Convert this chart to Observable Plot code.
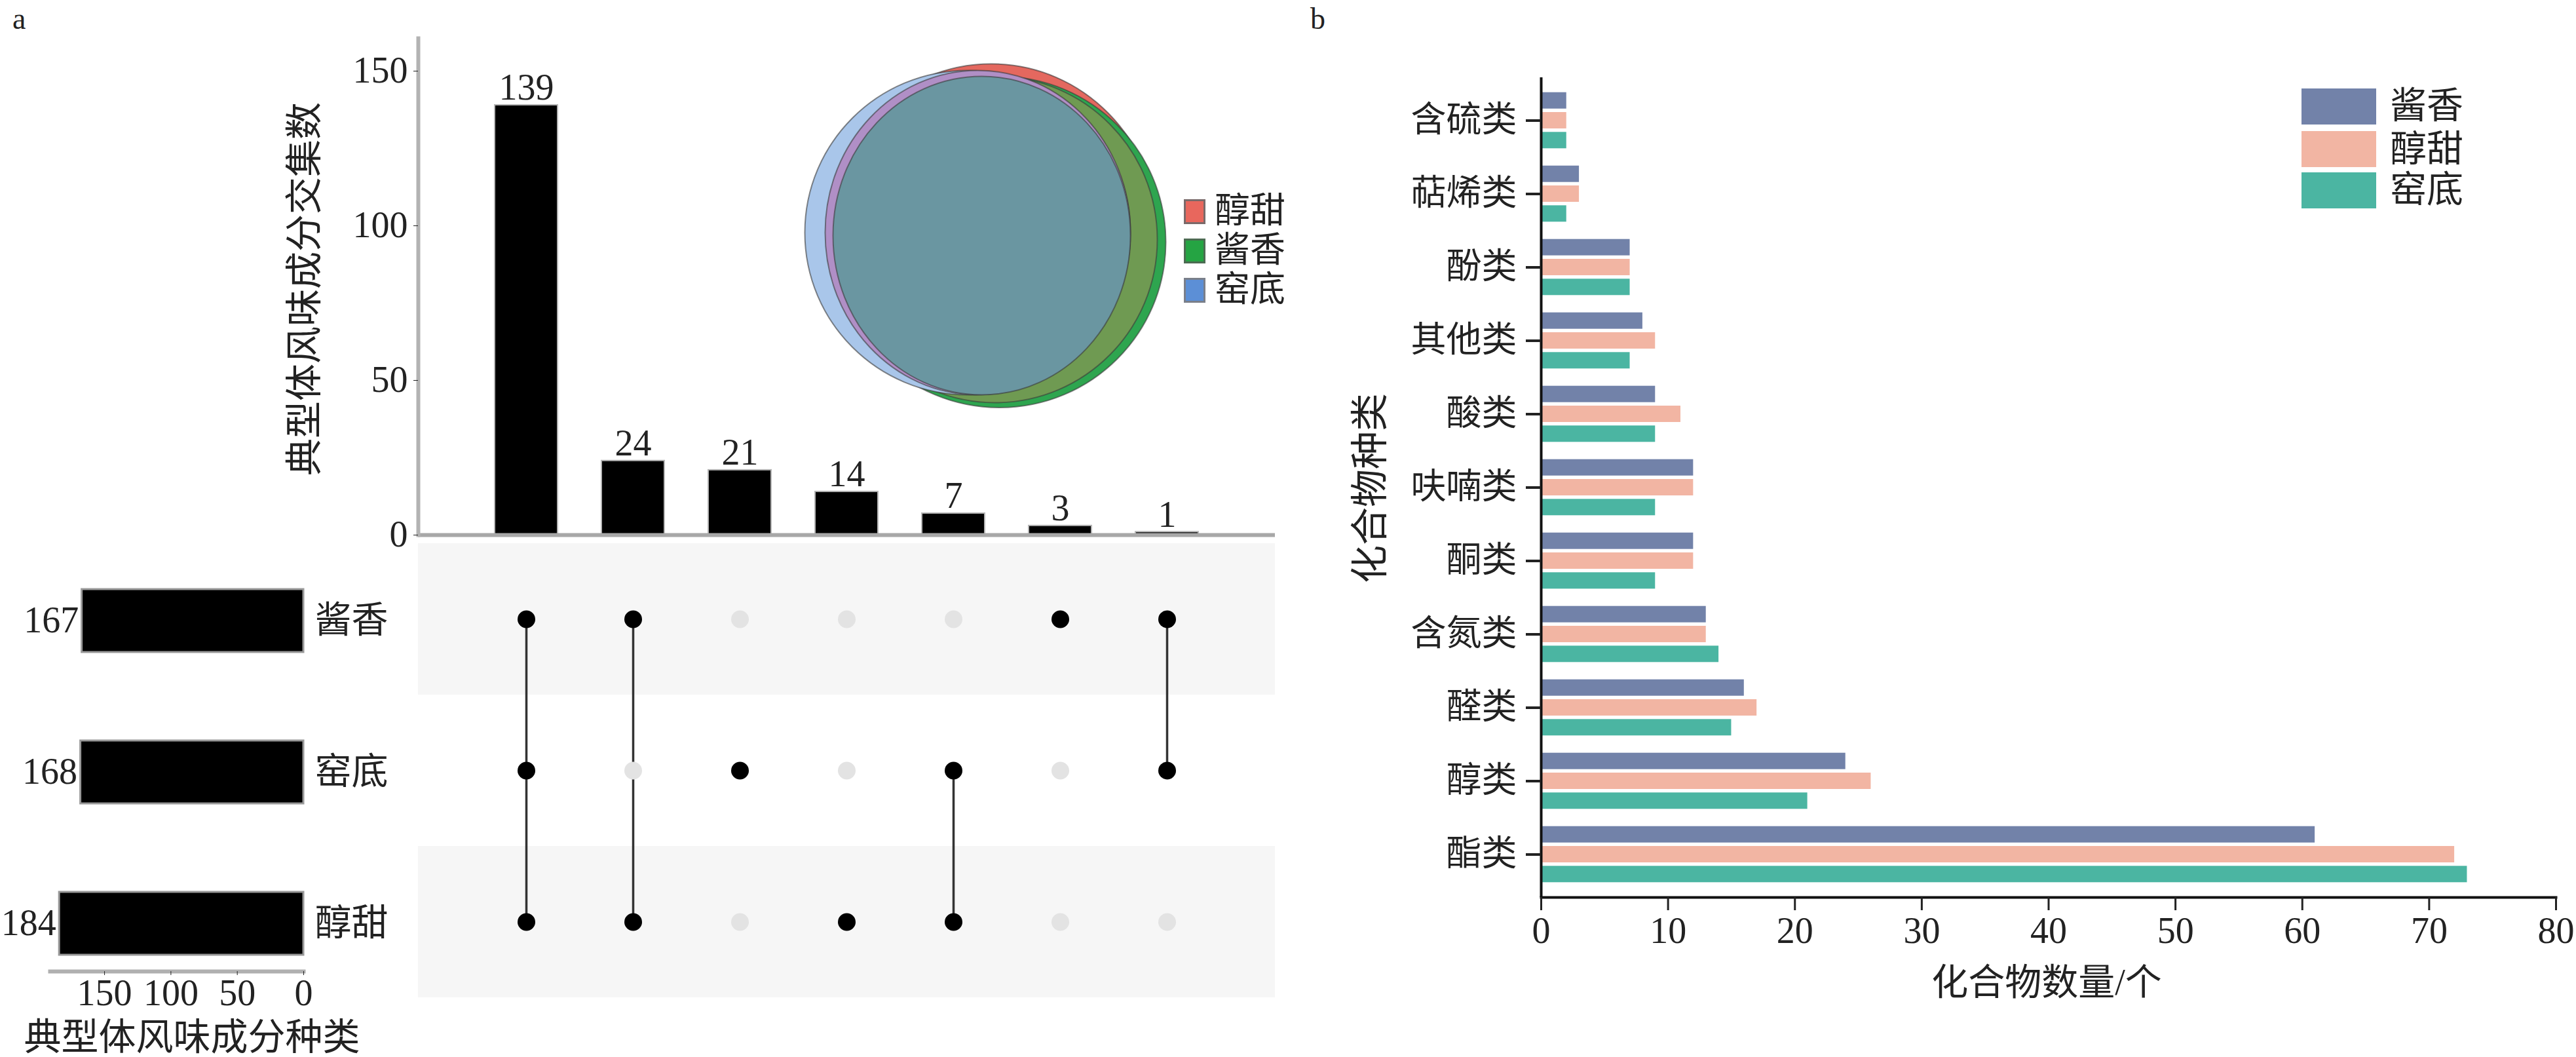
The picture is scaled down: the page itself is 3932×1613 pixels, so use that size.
<!DOCTYPE html>
<html><head><meta charset="utf-8">
<script src="https://cdn.jsdelivr.net/npm/d3@7"></script>
<script src="https://cdn.jsdelivr.net/npm/@observablehq/plot@0.6"></script>
<style>
html,body{margin:0;padding:0;background:#fff;}
#root{position:relative;width:3932px;height:1613px;overflow:hidden;background:#fff;font-family:"Liberation Serif","Noto Sans CJK SC",serif;color:#222;}
.layer{position:absolute;}
.layer svg{display:block;max-width:none;}
.t{position:absolute;white-space:nowrap;line-height:1.1;}
.sw{position:absolute;box-sizing:border-box;}
</style></head><body><div id="root"></div>
<script>
// ---------- data: panel a (UpSet) ----------
const setNames = ["酱香", "窑底", "醇甜"];
const setSizes = [167, 168, 184];
const comboCounts = [139, 24, 21, 14, 7, 3, 1];
const comboMembers = [["酱香","窑底","醇甜"], ["酱香","醇甜"], ["窑底"], ["醇甜"], ["窑底","醇甜"], ["酱香"], ["酱香","窑底"]];
const topTicks = [0, 50, 100, 150];
const setTicks = [150, 100, 50, 0];
const vennNames = ["醇甜", "酱香", "窑底"];

// ---------- data: panel b ----------
const categories = ["含硫类","萜烯类","酚类","其他类","酸类","呋喃类","酮类","含氮类","醛类","醇类","酯类"];
const seriesNames = ["酱香", "醇甜", "窑底"];
const jiangxiang = [2, 3, 7, 8, 9, 12, 12, 13, 16, 24, 61];
const chuntian   = [2, 3, 7, 9, 11, 12, 12, 13, 17, 26, 72];
const jiaodi     = [2, 2, 7, 7, 9, 9, 9, 14, 15, 21, 73];
const bTicks = [0, 10, 20, 30, 40, 50, 60, 70, 80];

// ---------- helpers ----------
const FONT = '"Liberation Serif", "Noto Sans CJK SC", serif';
const root = document.getElementById("root");
function place(node, left, top) {
  const d = document.createElement("div");
  d.className = "layer"; d.style.left = left + "px"; d.style.top = top + "px";
  d.appendChild(node); root.appendChild(d);
}
function label(text, x, y, size, opts = {}) {
  const d = document.createElement("div");
  d.className = "t"; d.textContent = text;
  d.style.fontSize = size + "px";
  d.style.left = x + "px"; d.style.top = y + "px";
  d.style.transform = opts.transform || "translate(-50%,-50%)";
  root.appendChild(d);
}
function swatch(x, y, w, h, fill, border) {
  const d = document.createElement("div");
  d.className = "sw";
  Object.assign(d.style, {left: x + "px", top: y + "px", width: w + "px", height: h + "px", background: fill, border: border || "none"});
  root.appendChild(d);
}
const baseStyle = {background: "transparent", overflow: "visible", fontFamily: FONT, color: "#222", maxWidth: "none"};

// ---------- panel a: intersection bars ----------
const combos = comboCounts.map((count, i) => ({id: comboMembers[i].join("∩"), count, members: comboMembers[i]}));
const xDomain = combos.map(d => d.id);
const xBand = () => ({type: "band", domain: xDomain, paddingInner: 0.41, paddingOuter: 0.7, axis: null});

const topBars = Plot.plot({
  width: 1960, height: 840,
  marginLeft: 638, marginRight: 14, marginTop: 58, marginBottom: 24,
  style: baseStyle,
  x: xBand(),
  y: {domain: [0, 160.6]},
  marks: [
    Plot.barY(combos, {x: "id", y: "count", fill: "#000", stroke: "#b5b5b5", strokeWidth: 2}),
    Plot.text(combos, {x: "id", y: "count", text: d => String(d.count), dy: -8, lineAnchor: "bottom", fontSize: 56, fill: "#222"}),
    Plot.ruleY([0], {stroke: "#a8a8a8", strokeWidth: 6}),
    Plot.frame({anchor: "left", stroke: "#b3b3b3", strokeWidth: 6}),
    Plot.axisY({ticks: topTicks, tickSize: 7, tickPadding: 9, label: null, fontSize: 56})
  ]
});
place(topBars, 0, 0);

// ---------- panel a: matrix ----------
const matrixDots = combos.flatMap(c => setNames.map(s => ({id: c.id, set: s, active: c.members.includes(s)})));
const matrixLinks = combos.filter(c => c.members.length > 1).map(c => {
  const idx = c.members.map(m => setNames.indexOf(m));
  return {id: c.id, y1: setNames[d3.min(idx)], y2: setNames[d3.max(idx)]};
});
const shadedRows = setNames.filter((s, i) => i % 2 === 0);
const rowHalf = (1523 - 828) / 3 / 2;
const matrix = Plot.plot({
  width: 1960, height: 1540,
  marginLeft: 638, marginRight: 14, marginTop: 828, marginBottom: 17,
  style: baseStyle,
  x: xBand(),
  y: {type: "band", domain: setNames, padding: 0, axis: null},
  marks: [
    Plot.cell(shadedRows, {y: d => d, fill: "#f6f6f6"}),
    Plot.ruleX(matrixLinks, {x: "id", y1: "y1", y2: "y2", stroke: "#333", strokeWidth: 3.5, insetTop: rowHalf, insetBottom: rowHalf}),
    Plot.dot(matrixDots.filter(d => !d.active), {x: "id", y: "set", r: 13.5, fill: "#e3e3e3"}),
    Plot.dot(matrixDots.filter(d => d.active), {x: "id", y: "set", r: 13.5, fill: "#000"})
  ]
});
place(matrix, 0, 0);

// ---------- panel a: set sizes ----------
const sets = setNames.map((name, i) => ({name, size: setSizes[i]}));
const setChart = Plot.plot({
  width: 640, height: 1613,
  marginLeft: 76, marginRight: 177, marginTop: 874, marginBottom: 131,
  style: baseStyle,
  x: {domain: [0, 191], reverse: true},
  y: {domain: setNames, paddingInner: 0.584, paddingOuter: 0.108, axis: null},
  marks: [
    Plot.barX(sets, {x: "size", y: "name", fill: "#000", stroke: "#999", strokeWidth: 3}),
    Plot.text(sets, {x: "size", y: "name", text: d => String(d.size), textAnchor: "end", dx: -5, fontSize: 56, fill: "#222"}),
    Plot.text(sets, {x: 0, y: "name", text: "name", textAnchor: "start", dx: 17, fontSize: 56, fill: "#222"}),
    Plot.frame({anchor: "bottom", stroke: "#b0b0b0", strokeWidth: 6}),
    Plot.axisX({ticks: setTicks, tickSize: 6, tickPadding: 6, label: null, fontSize: 56})
  ]
});
place(setChart, 0, 0);

// ---------- panel a: Venn (schematic ellipses, drawing layout only) ----------
const vennLayout = [
  {cx: 312.5, cy: 275.5, rx: 253.5, ry: 258.5, fill: "#e4685f"},  // 醇甜
  {cx: 325, cy: 288.75, rx: 254, ry: 252.75, fill: "#2ea54f"},    // 酱香
  {cx: 318.5, cy: 285, rx: 247.5, ry: 249, fill: "#6f9a52"},      // 酱香∩醇甜
  {cx: 276.5, cy: 274.5, rx: 248.5, ry: 247.5, fill: "#a9c6ea"},  // 窑底
  {cx: 292, cy: 274.5, rx: 233, ry: 247.5, fill: "#b08fc6"},      // 窑底∩醇甜
  {cx: 298, cy: 279, rx: 227, ry: 243, fill: "#6a96a1"}           // all three
];
const K = 0.5522847498;
function ellipseSymbol(k) {
  return {draw(ctx, size) {
    const ry = Math.sqrt(size / Math.PI), rx = ry * k, kx = rx * K, ky = ry * K;
    ctx.moveTo(rx, 0);
    ctx.bezierCurveTo(rx, ky, kx, ry, 0, ry);
    ctx.bezierCurveTo(-kx, ry, -rx, ky, -rx, 0);
    ctx.bezierCurveTo(-rx, -ky, -kx, -ry, 0, -ry);
    ctx.bezierCurveTo(kx, -ry, rx, -ky, rx, 0);
    ctx.closePath();
  }};
}
const venn = Plot.plot({
  width: 640, height: 600, margin: 0,
  style: baseStyle,
  x: {type: "identity", axis: null},
  y: {type: "identity", axis: null},
  marks: vennLayout.map(s => Plot.dot([s], {x: "cx", y: "cy", r: s.ry, symbol: ellipseSymbol(s.rx / s.ry), fill: s.fill, stroke: "#3a3a3a", strokeWidth: 2, strokeOpacity: 0.6}))
});
place(venn, 1200, 80);

// Venn legend
const vennColors = ["#e8675d", "#25a443", "#5c8fd6"];
const vennBorders = ["3px solid #7a6a6a", "3px solid #4c6b52", "3px solid #7a7f8a"];
vennNames.forEach((n, i) => {
  swatch(1807, 304 + i * 60, 33, 38, vennColors[i], vennBorders[i]);
  label(n, 1854, 323 + i * 60, 54, {transform: "translate(0,-50%)"});
});

// panel a titles
label("a", 19, 4, 46, {transform: "none"});
label("典型体风味成分交集数", 465, 441, 57, {transform: "translate(-50%,-50%) rotate(-90deg)"});
label("典型体风味成分种类", 293, 1583, 57);

// ---------- panel b ----------
const bColors = ["#7282a9", "#f2b5a3", "#4bb5a2"];
const bSeries = [jiangxiang, chuntian, jiaodi];
const bOffsets = [-30.3, 0, 30.3];
const chartB = Plot.plot({
  width: 1932, height: 1613,
  marginLeft: 352, marginRight: 31, marginTop: 118, marginBottom: 244,
  style: baseStyle,
  x: {domain: [0, 80]},
  y: {domain: categories, paddingInner: 0.779, paddingOuter: 0.428},
  marks: [
    ...bSeries.map((vals, s) => Plot.barX(categories, {y: d => d, x: (d, i) => vals[i], fill: bColors[s], dy: bOffsets[s]})),
    Plot.ruleX([0], {stroke: "#111", strokeWidth: 4}),
    Plot.frame({anchor: "bottom", stroke: "#111", strokeWidth: 4}),
    Plot.axisY({tickSize: 23, tickPadding: 14, fontSize: 54, label: null, strokeWidth: 4}),
    Plot.axisX({ticks: bTicks, tickSize: 20, tickPadding: 10, fontSize: 56, label: null, strokeWidth: 3})
  ]
});
place(chartB, 2000, 0);

// panel b legend
seriesNames.forEach((n, i) => {
  swatch(3513, [135, 200, 263][i], 114, 55, bColors[i]);
  label(n, 3648, [162, 228, 290][i], 56, {transform: "translate(0,-50%)"});
});
label("b", 2000, 4, 46, {transform: "none"});
label("化合物种类", 2092, 745, 58, {transform: "translate(-50%,-50%) rotate(-90deg)"});
label("化合物数量/个", 3124, 1500, 56);
</script></body></html>
